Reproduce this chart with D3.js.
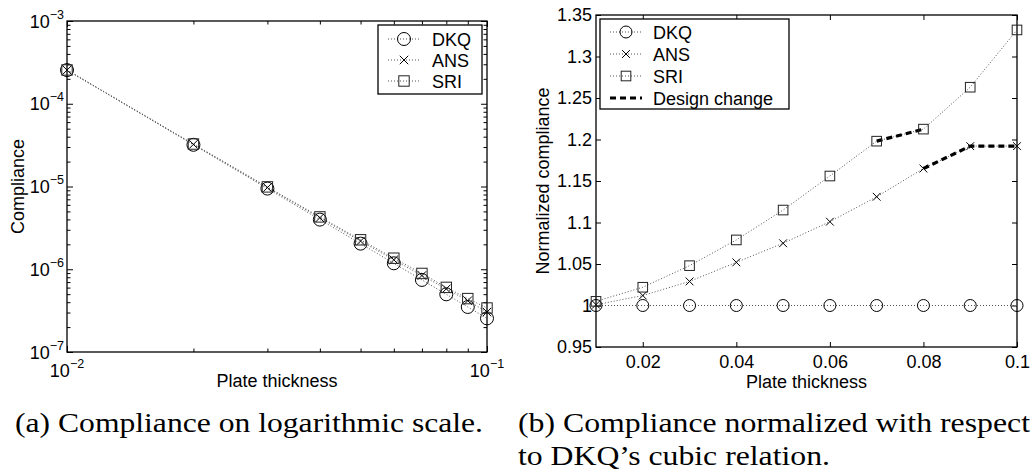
<!DOCTYPE html>
<html>
<head>
<meta charset="utf-8">
<script src="https://cdn.jsdelivr.net/npm/d3@7"></script>
<style>
  body { margin: 0; background: #fff; }
  text { font-family: "Liberation Sans", Arial, sans-serif; fill: #000; }
  .caption { font-family: "Liberation Serif", "Times New Roman", serif; }
</style>
</head>
<body>
<div id="chartDiv"></div>
<script>

// data
var thickness = [0.01, 0.02, 0.03, 0.04, 0.05, 0.06, 0.07, 0.08, 0.09, 0.10];

var complianceDKQ = [2.55e-4, 3.19e-5, 9.44e-6, 3.98e-6, 2.04e-6, 1.18e-6, 7.43e-7, 4.98e-7, 3.50e-7, 2.55e-7];
var complianceANS = [2.55e-4, 3.23e-5, 9.71e-6, 4.19e-6, 2.19e-6, 1.30e-6, 8.40e-7, 5.80e-7, 4.17e-7, 3.04e-7];
var complianceSRI = [2.56e-4, 3.26e-5, 9.89e-6, 4.29e-6, 2.27e-6, 1.36e-6, 8.90e-7, 6.04e-7, 4.42e-7, 3.40e-7];

var normDKQ = [1, 1, 1, 1, 1, 1, 1, 1, 1, 1];
var normANS = [1.001, 1.012, 1.029, 1.052, 1.075, 1.101, 1.131, 1.165, 1.192, 1.192];
var normSRI = [1.005, 1.022, 1.048, 1.079, 1.115, 1.156, 1.198, 1.2125, 1.263, 1.332];

// design change segments (indices into thickness)
var designSRI = [6, 7];
var designANS = [7, 8, 9];

var logXMajor = [0.01, 0.1];
var logYMajor = [1e-7, 1e-6, 1e-5, 1e-4, 1e-3];

var linXTicks = [0.02, 0.04, 0.06, 0.08, 0.1];
var linXLabels = ["0.02", "0.04", "0.06", "0.08", "0.1"];
var linYTicks = [0.95, 1, 1.05, 1.1, 1.15, 1.2, 1.25, 1.3, 1.35];
var linYLabels = ["0.95", "1", "1.05", "1.1", "1.15", "1.2", "1.25", "1.3", "1.35"];

var seriesNames = ["DKQ", "ANS", "SRI"];
var seriesMarks = ["circle", "x", "square"];

var svg = d3.select("#chartDiv").append("svg")
    .attr("width", 1035)
    .attr("height", 475);

var dotStroke = "#555";

function drawMarker(g, type, x, y, s) {
  if (type == "circle") {
    g.append("circle").attr("cx", x).attr("cy", y).attr("r", s)
      .attr("fill", "none").attr("stroke", "#000").attr("stroke-width", 1);
  } else if (type == "square") {
    g.append("rect").attr("x", x - s * 0.8).attr("y", y - s * 0.8)
      .attr("width", s * 1.6).attr("height", s * 1.6)
      .attr("fill", "none").attr("stroke", "#222").attr("stroke-width", 1);
  } else {
    var a = s * 0.65;
    g.append("path")
      .attr("d", "M" + (x - a) + "," + (y - a) + "L" + (x + a) + "," + (y + a) +
                 "M" + (x - a) + "," + (y + a) + "L" + (x + a) + "," + (y - a))
      .attr("stroke", "#000").attr("stroke-width", 1).attr("fill", "none");
  }
}

function inwardTicks(g, x, y, box, xVals, yVals, len) {
  g.append("g").attr("transform", "translate(0," + box.bottom + ")")
    .call(d3.axisBottom(x).tickValues(xVals).tickSize(-len).tickFormat(""));
  g.append("g").attr("transform", "translate(0," + box.top + ")")
    .call(d3.axisTop(x).tickValues(xVals).tickSize(-len).tickFormat(""));
  g.append("g").attr("transform", "translate(" + box.left + ",0)")
    .call(d3.axisLeft(y).tickValues(yVals).tickSize(-len).tickFormat(""));
  g.append("g").attr("transform", "translate(" + box.right + ",0)")
    .call(d3.axisRight(y).tickValues(yVals).tickSize(-len).tickFormat(""));
  g.selectAll(".domain").remove();
  g.selectAll(".tick line").attr("stroke", "#000").attr("stroke-width", 1);
}

function frame(g, box) {
  g.append("rect")
    .attr("x", box.left).attr("y", box.top)
    .attr("width", box.right - box.left).attr("height", box.bottom - box.top)
    .attr("fill", "none").attr("stroke", "#000").attr("stroke-width", 1.3);
}

// ---------------- (a) log plot ----------------
var A = {left: 67, right: 487, top: 21, bottom: 352};
var xLog = d3.scaleLog().domain([0.01, 0.1]).range([A.left, A.right]);
var yLog = d3.scaleLog().domain([1e-7, 1e-3]).range([A.bottom, A.top]);

var ga = svg.append("g").attr("class", "plot_a");

var xMinor = xLog.ticks().filter(function(d){ return logXMajor.indexOf(d) < 0; });
var yMinor = yLog.ticks().filter(function(d){ return logYMajor.indexOf(d) < 0; });

inwardTicks(ga.append("g"), xLog, yLog, A, xMinor, yMinor, 3.5);
inwardTicks(ga.append("g"), xLog, yLog, A, logXMajor, logYMajor, 6);
frame(ga, A);

var complianceSets = [complianceDKQ, complianceANS, complianceSRI];
var lineA = d3.line().x(function(d, i){ return xLog(thickness[i]); }).y(function(d){ return yLog(d); });

complianceSets.forEach(function(vals){
  ga.append("path").attr("d", lineA(vals))
    .attr("fill", "none").attr("stroke", dotStroke).attr("stroke-width", 1)
    .attr("stroke-dasharray", "1,2");
});
complianceSets.forEach(function(vals, k){
  vals.forEach(function(v, i){
    drawMarker(ga, seriesMarks[k], xLog(thickness[i]), yLog(v), 6.5);
  });
});

// tick labels with superscripts
logYMajor.forEach(function(v){
  var t = ga.append("text").attr("x", A.left - 3).attr("y", yLog(v) + 6.5)
    .attr("text-anchor", "end").style("font-size", "18px");
  t.append("tspan").text("10");
  t.append("tspan").attr("dy", -9).style("font-size", "12.5px").text("\u2212" + Math.round(-Math.log10(v)));
});
logXMajor.forEach(function(v){
  var t = ga.append("text").attr("x", xLog(v)).attr("y", 377)
    .attr("text-anchor", "middle").style("font-size", "18px");
  t.append("tspan").text("10");
  t.append("tspan").attr("dy", -9).style("font-size", "12.5px").text("\u2212" + Math.round(-Math.log10(v)));
});

ga.append("text").attr("x", (A.left + A.right) / 2).attr("y", 387)
  .attr("text-anchor", "middle").style("font-size", "18px").text("Plate thickness");
ga.append("text").attr("transform", "translate(24," + (A.top + A.bottom) / 2 + ") rotate(-90)")
  .attr("text-anchor", "middle").style("font-size", "18px").text("Compliance");

// legend (a)
var legA = ga.append("g");
legA.append("rect").attr("x", 378).attr("y", 25).attr("width", 104).attr("height", 69)
  .attr("fill", "#fff").attr("stroke", "#000").attr("stroke-width", 1.3);
seriesNames.forEach(function(name, k){
  var yy = 39 + k * 21;
  legA.append("line").attr("x1", 388).attr("x2", 420).attr("y1", yy).attr("y2", yy)
    .attr("stroke", dotStroke).attr("stroke-width", 1).attr("stroke-dasharray", "1,2");
  drawMarker(legA, seriesMarks[k], 404, yy, 6.5);
  legA.append("text").attr("x", 432).attr("y", yy + 6.5).style("font-size", "18px").text(name);
});

// ---------------- (b) normalized plot ----------------
var B = {left: 596, right: 1017, top: 15, bottom: 347};
var xLin = d3.scaleLinear().domain([0.01, 0.1]).range([B.left, B.right]);
var yLin = d3.scaleLinear().domain([0.95, 1.35]).range([B.bottom, B.top]);

var gb = svg.append("g").attr("class", "plot_b");
inwardTicks(gb.append("g"), xLin, yLin, B, linXTicks, linYTicks, 5);
frame(gb, B);

var normSets = [normDKQ, normANS, normSRI];
var lineB = d3.line().x(function(d, i){ return xLin(thickness[i]); }).y(function(d){ return yLin(d); });

normSets.forEach(function(vals){
  gb.append("path").attr("d", lineB(vals))
    .attr("fill", "none").attr("stroke", dotStroke).attr("stroke-width", 1)
    .attr("stroke-dasharray", "1,2");
});

var dash = d3.line().x(function(i){ return xLin(thickness[i]); });
gb.append("path").attr("d", dash.y(function(i){ return yLin(normSRI[i]); })(designSRI))
  .attr("fill", "none").attr("stroke", "#000").attr("stroke-width", 3.2).attr("stroke-dasharray", "6,4");
gb.append("path").attr("d", dash.y(function(i){ return yLin(normANS[i]); })(designANS))
  .attr("fill", "none").attr("stroke", "#000").attr("stroke-width", 3.2).attr("stroke-dasharray", "6,4");

normSets.forEach(function(vals, k){
  vals.forEach(function(v, i){
    drawMarker(gb, seriesMarks[k], xLin(thickness[i]), yLin(v), 6);
  });
});

var yLab = gb.append("g").attr("transform", "translate(" + B.left + ",0)")
  .call(d3.axisLeft(yLin).tickValues(linYTicks).tickSize(0).tickPadding(4)
        .tickFormat(function(d, i){ return linYLabels[i]; }));
var xLab = gb.append("g").attr("transform", "translate(0," + B.bottom + ")")
  .call(d3.axisBottom(xLin).tickValues(linXTicks).tickSize(0).tickPadding(8)
        .tickFormat(function(d, i){ return linXLabels[i]; }));
[yLab, xLab].forEach(function(a){
  a.select(".domain").remove();
  a.selectAll("text").style("font-size", "18px")
    .style("font-family", "'Liberation Sans', Arial, sans-serif").attr("fill", "#000");
});

gb.append("text").attr("x", (B.left + B.right) / 2).attr("y", 388)
  .attr("text-anchor", "middle").style("font-size", "18px").text("Plate thickness");
gb.append("text").attr("transform", "translate(549," + (B.top + B.bottom) / 2 + ") rotate(-90)")
  .attr("text-anchor", "middle").style("font-size", "18px").text("Normalized compliance");

// legend (b)
var legB = gb.append("g");
legB.append("rect").attr("x", 600).attr("y", 19).attr("width", 189).attr("height", 90)
  .attr("fill", "#fff").attr("stroke", "#000").attr("stroke-width", 1.3);
seriesNames.forEach(function(name, k){
  var yy = 32 + k * 22;
  legB.append("line").attr("x1", 610).attr("x2", 642).attr("y1", yy).attr("y2", yy)
    .attr("stroke", dotStroke).attr("stroke-width", 1).attr("stroke-dasharray", "1,2");
  drawMarker(legB, seriesMarks[k], 626, yy, 6);
  legB.append("text").attr("x", 653).attr("y", yy + 6.5).style("font-size", "18px").text(name);
});
legB.append("line").attr("x1", 610).attr("x2", 642).attr("y1", 98).attr("y2", 98)
  .attr("stroke", "#000").attr("stroke-width", 3.2).attr("stroke-dasharray", "6,4");
legB.append("text").attr("x", 653).attr("y", 104.5).style("font-size", "18px").text("Design change");

// ---------------- captions ----------------
svg.append("text").attr("class", "caption").attr("x", 15).attr("y", 432)
  .attr("textLength", 468).attr("lengthAdjust", "spacingAndGlyphs")
  .style("font-size", "28px").text("(a) Compliance on logarithmic scale.");
svg.append("text").attr("class", "caption").attr("x", 518).attr("y", 432)
  .attr("textLength", 512).attr("lengthAdjust", "spacingAndGlyphs")
  .style("font-size", "28px").text("(b) Compliance normalized with respect");
svg.append("text").attr("class", "caption").attr("x", 518).attr("y", 465)
  .attr("textLength", 312).attr("lengthAdjust", "spacingAndGlyphs")
  .style("font-size", "28px").text("to DKQ\u2019s cubic relation.");

</script>
</body>
</html>
